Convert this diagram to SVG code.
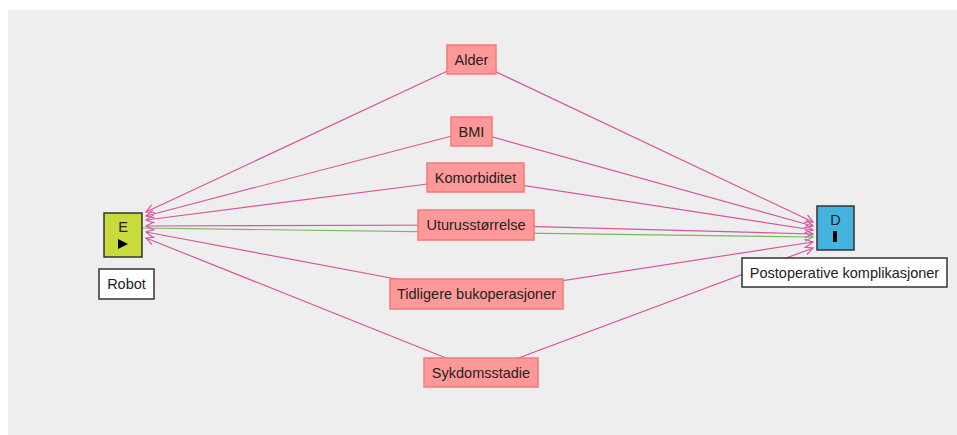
<svg xmlns="http://www.w3.org/2000/svg" width="957" height="435" viewBox="0 0 957 435">
<style>
.bg{fill:#eeeeee}
.cov rect{fill:#ff9999;stroke:#f07b7b;stroke-width:1.5}
text{font-family:"Liberation Sans",Arial,sans-serif;font-size:14.5px;fill:#222;text-anchor:middle}
.lbl rect{fill:#ffffff;stroke:#333333;stroke-width:1.5}
.e{stroke:#d6579f;stroke-width:1.2;fill:none;marker-end:url(#ap)}
.g{stroke:#78b85a;stroke-width:1.2;fill:none;marker-end:url(#ag)}
</style>
<defs>
<marker id="ap" viewBox="0 0 10 10" refX="9" refY="5" markerWidth="10" markerHeight="10" markerUnits="userSpaceOnUse" orient="auto">
<path d="M1,1 L9,5 L1,9" fill="none" stroke="#d6579f" stroke-width="1.2"/>
</marker>
<marker id="ag" viewBox="0 0 10 10" refX="9" refY="5" markerWidth="10" markerHeight="10" markerUnits="userSpaceOnUse" orient="auto">
<path d="M1,1 L9,5 L1,9" fill="none" stroke="#78b85a" stroke-width="1.2"/>
</marker>
</defs>
<rect class="bg" x="8" y="10" width="949" height="425"/>
<g id="connectors">
<line class="g" x1="142" y1="228" x2="813" y2="237"/>
<line class="e" x1="471" y1="60" x2="146" y2="212"/>
<line class="e" x1="471" y1="60" x2="813" y2="222"/>
<line class="e" x1="471" y1="131" x2="146" y2="216"/>
<line class="e" x1="471" y1="131" x2="813" y2="226"/>
<line class="e" x1="475" y1="178" x2="146" y2="220"/>
<line class="e" x1="475" y1="178" x2="813" y2="230"/>
<line class="e" x1="476" y1="225" x2="146" y2="226"/>
<line class="e" x1="476" y1="225" x2="813" y2="234"/>
<line class="e" x1="476" y1="294" x2="146" y2="232"/>
<line class="e" x1="476" y1="294" x2="813" y2="242"/>
<line class="e" x1="481" y1="372" x2="146" y2="238"/>
<line class="e" x1="481" y1="372" x2="813" y2="248"/>
</g>
<g id="E">
<rect x="104" y="213" width="38" height="44" fill="#c8da3c" stroke="#333" stroke-width="1.5"/>
<text x="123" y="232">E</text>
<path d="M118,239 L128,244 L118,249 Z" fill="#000"/>
</g>
<g id="Robot" class="lbl">
<rect x="99" y="269" width="55" height="30"/>
<text x="126.5" y="289">Robot</text>
</g>
<g id="D">
<rect x="817" y="206" width="37" height="44" fill="#45b3e0" stroke="#333" stroke-width="1.5"/>
<text x="835.5" y="225">D</text>
<rect x="833" y="231" width="4" height="11" fill="#000"/>
</g>
<g id="Postoperative" class="lbl">
<rect x="742" y="258" width="205" height="29"/>
<text x="844.5" y="278">Postoperative komplikasjoner</text>
</g>
<g id="Alder" class="cov">
<rect x="447" y="45" width="49" height="29"/>
<text x="471.5" y="65">Alder</text>
</g>
<g id="BMI" class="cov">
<rect x="451" y="117" width="41" height="29"/>
<text x="471.5" y="137">BMI</text>
</g>
<g id="Komorbiditet" class="cov">
<rect x="427" y="163" width="97" height="29"/>
<text x="475.5" y="183">Komorbiditet</text>
</g>
<g id="Uturusstorrelse" class="cov">
<rect x="418" y="210" width="116" height="30"/>
<text x="476" y="230">Uturusstørrelse</text>
</g>
<g id="Tidligere" class="cov">
<rect x="390" y="279" width="173" height="30"/>
<text x="476.5" y="299">Tidligere bukoperasjoner</text>
</g>
<g id="Sykdomsstadie" class="cov">
<rect x="424" y="358" width="114" height="29"/>
<text x="481" y="378">Sykdomsstadie</text>
</g>
</svg>
